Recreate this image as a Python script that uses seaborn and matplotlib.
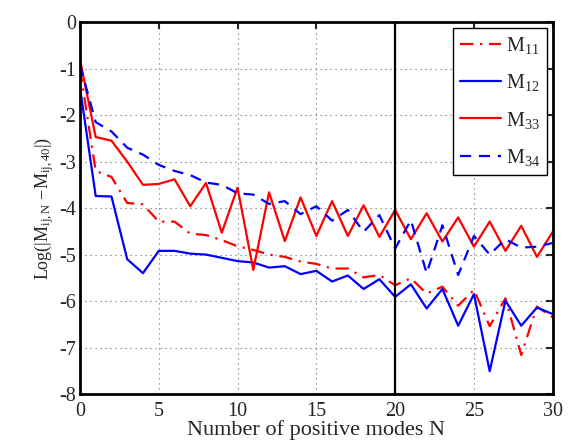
import numpy as np
import pandas as pd
import matplotlib
matplotlib.use("Agg")
import matplotlib.pyplot as plt
import seaborn as sns

N = list(range(31))
M11 = [-1.0, -3.2, -3.33, -3.89, -3.92, -4.29, -4.29, -4.55, -4.58, -4.69, -4.82,
       -4.9, -5.0, -5.05, -5.15, -5.2, -5.3, -5.3, -5.49, -5.44, -5.66,
       -5.51, -5.84, -5.69, -6.1, -5.76, -6.54, -5.94, -7.16, -6.12, -6.35]
M12 = [-1.4, -3.74, -3.75, -5.1, -5.4, -4.92, -4.92, -4.98, -5.0, -5.07, -5.14,
       -5.17, -5.28, -5.25, -5.42, -5.35, -5.58, -5.45, -5.74, -5.53, -5.91,
       -5.64, -6.16, -5.74, -6.53, -5.85, -7.51, -5.99, -6.53, -6.14, -6.28]
M33 = [-0.8, -2.47, -2.55, -3.0, -3.5, -3.48, -3.38, -3.96, -3.46, -4.53, -3.56,
       -5.33, -3.66, -4.71, -3.77, -4.6, -3.85, -4.6, -3.94, -4.62, -4.04,
       -4.67, -4.11, -4.72, -4.2, -4.83, -4.29, -4.92, -4.38, -5.05, -4.51]
M34 = [-0.92, -2.15, -2.35, -2.7, -2.85, -3.07, -3.2, -3.29, -3.45, -3.5, -3.68,
       -3.71, -3.91, -3.85, -4.13, -3.96, -4.27, -4.04, -4.51, -4.15, -4.87,
       -4.26, -5.4, -4.37, -5.44, -4.6, -5.0, -4.67, -4.85, -4.83, -4.75]

labels = [r"M$_{11}$", r"M$_{12}$", r"M$_{33}$", r"M$_{34}$"]
xticks = [0, 5, 10, 15, 20, 25, 30]
yticks = [0, -1, -2, -3, -4, -5, -6, -7, -8]

sns.set_style("white")
plt.rcParams["font.family"] = ["Liberation Serif", "DejaVu Serif"]
plt.rcParams["mathtext.fontset"] = "custom"
plt.rcParams["mathtext.rm"] = "Liberation Serif"
plt.rcParams["mathtext.it"] = "Liberation Serif"

fig = plt.figure(figsize=(5.71, 4.44), dpi=100)
ax = fig.add_axes([0.140, 0.1126, 0.828, 0.8374])

styles = [
    (M11, "#ff0000", (6, 3, 1, 3)),
    (M12, "#0000ff", None),
    (M33, "#ff0000", None),
    (M34, "#0000ff", (5, 3.5)),
]
for (vals, col, dash), lab in zip(styles, labels):
    sns.lineplot(x=N, y=vals, ax=ax, color=col, linewidth=1.6, label=lab)
    line = ax.lines[-1]
    if dash is not None:
        line.set_dashes(dash)

ax.axvline(20, color="black", linewidth=1.6)

ax.set_xlim(0, 30)
ax.set_ylim(-8, 0)
ax.set_xticks(xticks)
ax.set_yticks(yticks)
ax.set_yticklabels([str(v) for v in yticks])
ax.grid(True, linestyle=(0, (1, 3.5)), color="#666666", linewidth=0.8)
ax.tick_params(direction="in", length=5, width=1.5, top=True, right=True,
               labelsize=14.5)
ax.tick_params(axis="x", pad=6)
ax.tick_params(axis="y", pad=3)
for s in ax.spines.values():
    s.set_linewidth(2)
    s.set_color("black")

ax.set_xlabel("Number of positive modes N", fontsize=16, labelpad=-1)
ax.set_ylabel(r"Log(|M$_{\rm ij,N}$ $-$M$_{\rm ij,40}$|)", fontsize=13, labelpad=2)

leg = ax.legend(loc="upper right", fontsize=14.5, frameon=True, fancybox=False,
                edgecolor="black", framealpha=1, handlelength=2.0,
                borderpad=0.35, labelspacing=0.8, handletextpad=0.25,
                borderaxespad=0.3)
leg.get_frame().set_linewidth(1.0)

fig.savefig("out.png", dpi=100)
